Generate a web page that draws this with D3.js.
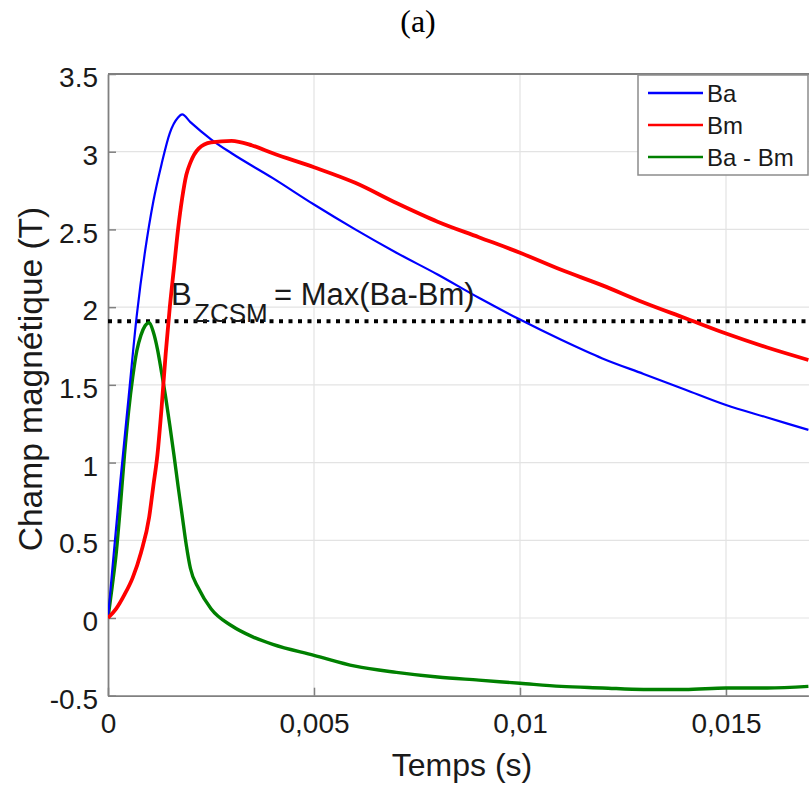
<!DOCTYPE html>
<html><head><meta charset="utf-8">
<script src="https://cdn.jsdelivr.net/npm/d3@7"></script>
<style>body{margin:0;background:#fff}svg{display:block}</style>
</head><body>
<svg id="c" width="809" height="787"></svg>
<script>
// ---- data ----
const baTime = [0,0.0001,0.0003,0.0005,0.0007,0.0009,0.0011,0.0013,0.0015,0.0017,0.0018,0.002,0.0025,0.003,0.004,0.005,0.006,0.007,0.008,0.009,0.010,0.011,0.012,0.013,0.014,0.015,0.016,0.017];
const baValues = [0,0.3,0.88,1.42,1.95,2.36,2.68,2.92,3.12,3.22,3.24,3.19,3.08,2.99,2.83,2.66,2.50,2.35,2.21,2.06,1.92,1.79,1.67,1.57,1.47,1.37,1.29,1.21];
const bmTime = [0,0.0002,0.0004,0.0006,0.0008,0.001,0.0011,0.0012,0.0013,0.0014,0.0015,0.0016,0.0017,0.0018,0.0019,0.002,0.0022,0.0025,0.003,0.0035,0.004,0.005,0.006,0.007,0.008,0.009,0.010,0.011,0.012,0.013,0.014,0.015,0.016,0.017];
const bmValues = [0,0.06,0.15,0.26,0.42,0.65,0.85,1.05,1.35,1.7,2.0,2.25,2.5,2.7,2.85,2.93,3.02,3.06,3.07,3.04,2.99,2.90,2.80,2.67,2.55,2.45,2.35,2.24,2.14,2.03,1.93,1.83,1.74,1.66];
const diffTime = [0,0.0001,0.0002,0.0003,0.0004,0.0005,0.0006,0.0007,0.0008,0.0009,0.001,0.0011,0.0012,0.0013,0.0014,0.0015,0.0016,0.0017,0.0018,0.0019,0.002,0.0022,0.0025,0.003,0.0035,0.004,0.005,0.006,0.007,0.008,0.009,0.010,0.011,0.012,0.013,0.014,0.015,0.016,0.017];
const diffValues = [0,0.2,0.42,0.72,1.05,1.33,1.55,1.72,1.82,1.88,1.9,1.84,1.73,1.58,1.42,1.24,1.05,0.85,0.66,0.47,0.32,0.19,0.06,-0.05,-0.12,-0.17,-0.24,-0.31,-0.35,-0.38,-0.40,-0.42,-0.44,-0.45,-0.46,-0.46,-0.45,-0.45,-0.44];
const zcsmLevel = 1.91;
const xTicks = [0,0.005,0.01,0.015];
const xTickLabels = ["0","0,005","0,01","0,015"];
const yTicks = [-0.5,0,0.5,1,1.5,2,2.5,3,3.5];
const yTickLabels = ["-0.5","0","0.5","1","1.5","2","2.5","3","3.5"];
const seriesNames = ["Ba","Bm","Ba - Bm"];
const seriesColors = ["#0000ff","#ff0000","#008000"];

// ---- layout ----
const svg = d3.select("#c");
const L = 108, R = 808.4, T = 74, B = 695.7;
const x = d3.scaleLinear().domain([0,0.017]).range([L,R]);
const y = d3.scaleLinear().domain([-0.5,3.5]).range([B,T]);
const font = "'Liberation Sans', Arial, sans-serif";

// grid
svg.append("g").selectAll("line").data(xTicks.slice(1)).join("line")
  .attr("x1",d=>x(d)).attr("x2",d=>x(d)).attr("y1",T).attr("y2",B)
  .attr("stroke","#e3e3e3").attr("stroke-width",1.2);
svg.append("g").selectAll("line").data(yTicks.slice(1,-1)).join("line")
  .attr("x1",L).attr("x2",809).attr("y1",d=>y(d)).attr("y2",d=>y(d))
  .attr("stroke","#e3e3e3").attr("stroke-width",1.2);

// axes
const xAxis = d3.axisBottom(x).tickValues(xTicks).tickFormat((d,i)=>xTickLabels[i]).tickSizeInner(-8).tickSizeOuter(0).tickPadding(17);
const gx = svg.append("g").attr("transform",`translate(0,${B})`).call(xAxis);
const yAxis = d3.axisLeft(y).tickValues(yTicks).tickFormat((d,i)=>yTickLabels[i]).tickSizeInner(-8).tickSizeOuter(0).tickPadding(10);
const gy = svg.append("g").attr("transform",`translate(${L},0)`).call(yAxis);
[gx,gy].forEach(g=>{
  g.select(".domain").attr("stroke","#808080").attr("stroke-width",1.8);
  g.selectAll(".tick line").attr("stroke","#808080").attr("stroke-width",1.5);
  g.selectAll(".tick text").attr("font-family",font).attr("font-size",28).attr("fill","#1a1a1a");
});
gx.selectAll(".tick text").attr("dy","0.72em");
gy.selectAll(".tick text").attr("dy","0.45em");
// top border
svg.append("line").attr("x1",L).attr("x2",809).attr("y1",T).attr("y2",T).attr("stroke","#808080").attr("stroke-width",1.8);

// clip
svg.append("clipPath").attr("id","clip").append("rect").attr("x",L).attr("y",T).attr("width",809-L).attr("height",B-T);
const plot = svg.append("g").attr("clip-path","url(#clip)");

// dotted line
plot.append("line").attr("x1",L).attr("x2",809).attr("y1",y(zcsmLevel)).attr("y2",y(zcsmLevel))
  .attr("stroke","#000").attr("stroke-width",4).attr("stroke-dasharray","4,5.5");

const line = d3.line().x(d=>x(d[0])).y(d=>y(d[1])).curve(d3.curveMonotoneX);
const series = [
  {t:diffTime, v:diffValues, c:seriesColors[2], w:3.4},
  {t:baTime, v:baValues, c:seriesColors[0], w:2.2},
  {t:bmTime, v:bmValues, c:seriesColors[1], w:3.8}
];
series.forEach(s=>{
  plot.append("path").datum(s.t.map((t,i)=>[t,s.v[i]]))
    .attr("d",line).attr("fill","none").attr("stroke",s.c).attr("stroke-width",s.w)
    .attr("stroke-linejoin","round");
});

// annotation
const ann = svg.append("text").attr("font-family",font).attr("fill","#1a1a1a");
ann.append("tspan").attr("x",171).attr("y",305).attr("font-size",31).text("B");
ann.append("tspan").attr("x",194).attr("y",322).attr("font-size",26).text("ZCSM");
ann.append("tspan").attr("x",274).attr("y",305).attr("font-size",31).text("= Max(Ba-Bm)");

// legend
const lg = svg.append("g");
lg.append("rect").attr("x",638).attr("y",75).attr("width",170).attr("height",100)
  .attr("fill","#fff").attr("stroke","#8c8c8c").attr("stroke-width",1.5);
seriesNames.forEach((n,i)=>{
  const yy = 93 + i*32;
  lg.append("line").attr("x1",648).attr("x2",703).attr("y1",yy).attr("y2",yy)
    .attr("stroke",seriesColors[i]).attr("stroke-width",2.5);
  lg.append("text").attr("x",707).attr("y",yy).attr("dy","0.36em")
    .attr("font-family",font).attr("font-size",24).attr("fill","#1a1a1a").text(n);
});

// titles
svg.append("text").attr("x",418).attr("y",32).attr("text-anchor","middle")
  .attr("font-family","'Liberation Serif', 'Times New Roman', serif").attr("font-size",32).attr("fill","#000").text("(a)");
svg.append("text").attr("x",462).attr("y",776).attr("text-anchor","middle")
  .attr("font-family",font).attr("font-size",32).attr("fill","#1a1a1a").text("Temps (s)");
svg.append("text").attr("transform","translate(42,379) rotate(-90)").attr("text-anchor","middle")
  .attr("font-family",font).attr("font-size",33.5).attr("fill","#1a1a1a").text("Champ magnétique  (T)");
</script>
</body></html>
